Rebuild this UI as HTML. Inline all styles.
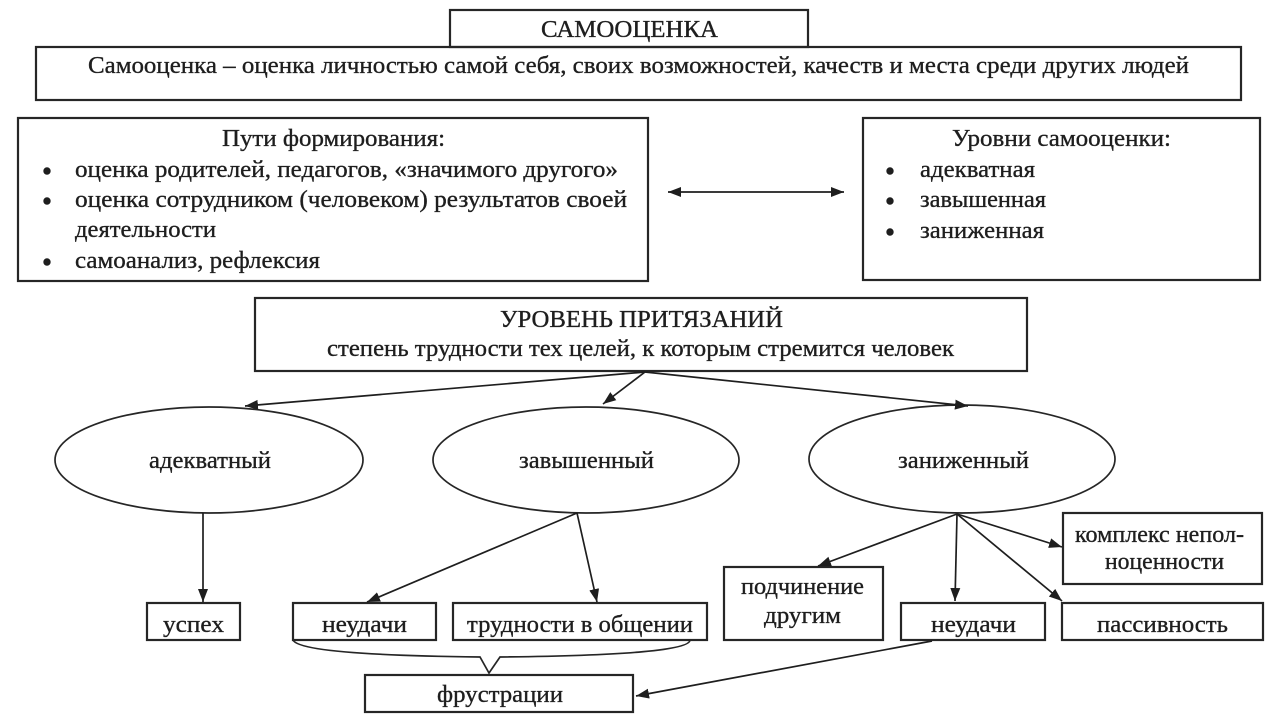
<!DOCTYPE html>
<html>
<head>
<meta charset="utf-8">
<style>
html,body{margin:0;padding:0;background:#fff;}
svg{display:block;}
text{font-family:"Liberation Serif","DejaVu Serif",serif;font-size:24px;fill:#1e1e1e;stroke:#1e1e1e;stroke-width:0.35px;}
</style>
</head>
<body>
<svg width="1280" height="720" viewBox="0 0 1280 720" xmlns="http://www.w3.org/2000/svg">
<defs>
<marker id="ah" markerUnits="userSpaceOnUse" markerWidth="14" markerHeight="11" refX="13" refY="5.5" orient="auto">
<path d="M0,0.5 L13,5.5 L0,10.5 z" fill="#1e1e1e"/>
</marker>
<marker id="ahs" markerUnits="userSpaceOnUse" markerWidth="14" markerHeight="11" refX="13" refY="5.5" orient="auto-start-reverse">
<path d="M0,0.5 L13,5.5 L0,10.5 z" fill="#1e1e1e"/>
</marker>
</defs>
<rect width="1280" height="720" fill="#fff"/>

<g fill="none" stroke="#262626" stroke-width="2.2">
<rect x="450" y="10" width="358" height="37"/>
<rect x="36" y="47" width="1205" height="53"/>
<rect x="18" y="118" width="630" height="163"/>
<rect x="863" y="118" width="397" height="162"/>
<rect x="255" y="298" width="772" height="73"/>
<rect x="147" y="603" width="93" height="37"/>
<rect x="293" y="603" width="143" height="37"/>
<rect x="453" y="603" width="254" height="37"/>
<rect x="365" y="675" width="268" height="37"/>
<rect x="724" y="567" width="159" height="73"/>
<rect x="901" y="603" width="144" height="37"/>
<rect x="1062" y="603" width="201" height="37"/>
<rect x="1063" y="513" width="199" height="71"/>
</g>

<g fill="none" stroke="#262626" stroke-width="1.7">
<ellipse cx="209" cy="460" rx="154" ry="53"/>
<ellipse cx="586" cy="460" rx="153" ry="53"/>
<ellipse cx="962" cy="459" rx="153" ry="54"/>
<path d="M293,640 Q300,655 480,657 L489,673 L500,657 Q690,655 690,640"/>
</g>

<g fill="none" stroke="#1e1e1e" stroke-width="1.7">
<line x1="668" y1="192" x2="844" y2="192" marker-start="url(#ahs)" marker-end="url(#ah)"/>
<line x1="645" y1="372" x2="245" y2="406" marker-end="url(#ah)"/>
<line x1="645" y1="372" x2="603" y2="404" marker-end="url(#ah)"/>
<line x1="645" y1="372" x2="968" y2="406" marker-end="url(#ah)"/>
<line x1="203" y1="513" x2="203" y2="602" marker-end="url(#ah)"/>
<line x1="577" y1="513" x2="367" y2="602" marker-end="url(#ah)"/>
<line x1="577" y1="513" x2="597" y2="602" marker-end="url(#ah)"/>
<line x1="957" y1="514" x2="818" y2="566" marker-end="url(#ah)"/>
<line x1="957" y1="514" x2="955" y2="601" marker-end="url(#ah)"/>
<line x1="957" y1="514" x2="1062" y2="547" marker-end="url(#ah)"/>
<line x1="957" y1="514" x2="1062" y2="601" marker-end="url(#ah)"/>
<line x1="932" y1="641" x2="636" y2="696" marker-end="url(#ah)"/>
</g>

<g fill="#1e1e1e">
<circle cx="47" cy="171" r="3.7"/>
<circle cx="47" cy="201" r="3.7"/>
<circle cx="47" cy="262" r="3.7"/>
<circle cx="890" cy="171" r="3.7"/>
<circle cx="890" cy="201" r="3.7"/>
<circle cx="890" cy="232" r="3.7"/>
</g>

<text x="541" y="37" font-size="22" textLength="177" lengthAdjust="spacingAndGlyphs">САМООЦЕНКА</text>
<text x="88" y="73" textLength="1101" lengthAdjust="spacingAndGlyphs">Самооценка – оценка личностью самой себя, своих возможностей, качеств и места среди других людей</text>

<text x="222" y="146" textLength="223" lengthAdjust="spacingAndGlyphs">Пути формирования:</text>
<text x="75" y="177" textLength="543" lengthAdjust="spacingAndGlyphs">оценка родителей, педагогов, «значимого другого»</text>
<text x="75" y="207" textLength="552" lengthAdjust="spacingAndGlyphs">оценка сотрудником (человеком) результатов своей</text>
<text x="75" y="237" textLength="141" lengthAdjust="spacingAndGlyphs">деятельности</text>
<text x="75" y="268" textLength="245" lengthAdjust="spacingAndGlyphs">самоанализ, рефлексия</text>

<text x="952" y="146" textLength="219" lengthAdjust="spacingAndGlyphs">Уровни самооценки:</text>
<text x="920" y="177" textLength="115" lengthAdjust="spacingAndGlyphs">адекватная</text>
<text x="920" y="207" textLength="126" lengthAdjust="spacingAndGlyphs">завышенная</text>
<text x="920" y="238" textLength="124" lengthAdjust="spacingAndGlyphs">заниженная</text>

<text x="500" y="327" textLength="283" lengthAdjust="spacingAndGlyphs">УРОВЕНЬ ПРИТЯЗАНИЙ</text>
<text x="327" y="356" textLength="627" lengthAdjust="spacingAndGlyphs">степень трудности тех целей, к которым стремится человек</text>

<text x="149" y="468" textLength="122" lengthAdjust="spacingAndGlyphs">адекватный</text>
<text x="519" y="468" textLength="135" lengthAdjust="spacingAndGlyphs">завышенный</text>
<text x="898" y="468" textLength="131" lengthAdjust="spacingAndGlyphs">заниженный</text>

<text x="163" y="632" textLength="61" lengthAdjust="spacingAndGlyphs">успех</text>
<text x="322" y="632" textLength="85" lengthAdjust="spacingAndGlyphs">неудачи</text>
<text x="467" y="632" textLength="226" lengthAdjust="spacingAndGlyphs">трудности в общении</text>
<text x="437" y="702" textLength="126" lengthAdjust="spacingAndGlyphs">фрустрации</text>
<text x="741" y="594" textLength="123" lengthAdjust="spacingAndGlyphs">подчинение</text>
<text x="764" y="623" textLength="77" lengthAdjust="spacingAndGlyphs">другим</text>
<text x="931" y="632" textLength="85" lengthAdjust="spacingAndGlyphs">неудачи</text>
<text x="1097" y="632" textLength="131" lengthAdjust="spacingAndGlyphs">пассивность</text>
<text x="1075" y="542" textLength="169" lengthAdjust="spacingAndGlyphs">комплекс непол-</text>
<text x="1105" y="569" textLength="119" lengthAdjust="spacingAndGlyphs">ноценности</text>
</svg>
</body>
</html>
